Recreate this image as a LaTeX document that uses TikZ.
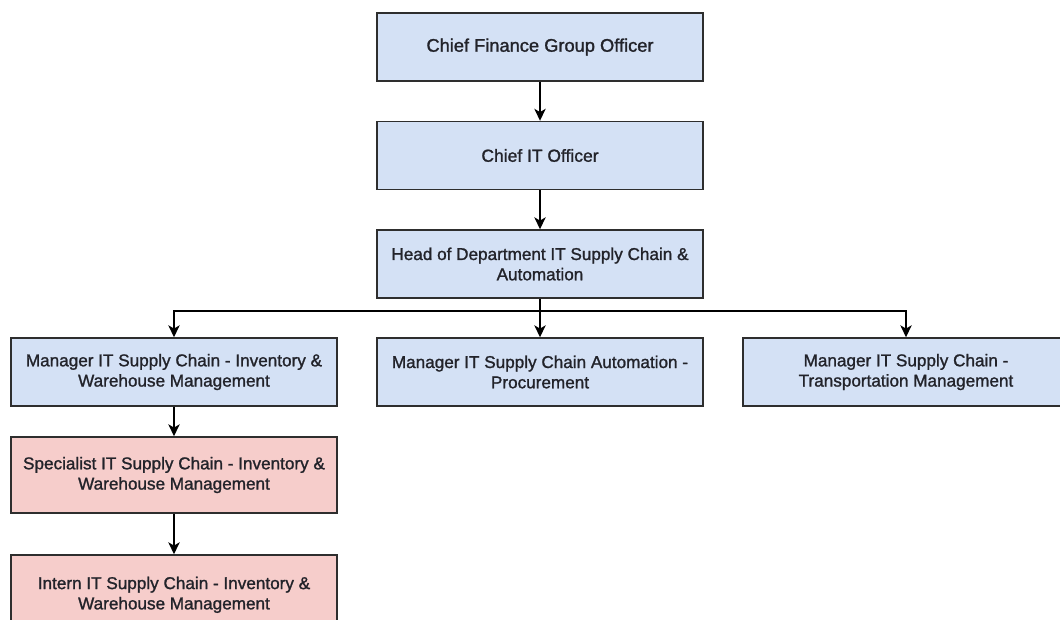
\documentclass[tikz,border=0pt]{standalone}
\usepackage{fontspec}
\setmainfont{Liberation Sans}
\newfontfamily\boxfont{Liberation Sans}[FakeBold=1.3]
\usetikzlibrary{arrows.meta}
\definecolor{boxblue}{HTML}{D4E1F5}
\definecolor{boxred}{HTML}{F6CDCB}
\definecolor{edgegray}{HTML}{2E2E2E}
\definecolor{txtgray}{HTML}{22232A}
\tikzset{
  orgbox/.style={draw=edgegray, line width=1.1pt, rectangle, minimum width=244.5pt,
    minimum height=51pt, align=center, text=txtgray, inner sep=2pt,
    font=\boxfont\fontsize{12.85pt}{15.2pt}\selectfont},
  bluebox/.style={orgbox, fill=boxblue},
  redbox/.style={orgbox, fill=boxred, minimum height=57pt},
  link/.style={draw=black, line width=1.1pt, -{Stealth[length=9pt,width=8.5pt,inset=2.5pt]}}
}
\begin{document}
\begin{tikzpicture}[x=0.75pt,y=-0.75pt]
\clip (0,0) rectangle (1060,619);
\fill[white] (0,0) rectangle (1060,619);
\node[bluebox, font=\boxfont\fontsize{13.7pt}{15.2pt}\selectfont] (b1) at (540,47) {Chief Finance Group Officer};
\node[bluebox, font=\boxfont\fontsize{13.1pt}{15.2pt}\selectfont] (b2) at (540,155.5) {Chief IT Officer};
\node[bluebox] (b3) at (540,264) {Head of Department IT Supply Chain \&\\Automation};
\node[bluebox] (m1) at (174,372) {Manager IT Supply Chain - Inventory \&\\Warehouse Management};
\node[bluebox] (m2) at (540,372) {Manager IT Supply Chain Automation -\\Procurement};
\node[bluebox] (m3) at (906,372) {Manager IT Supply Chain -\\Transportation Management};
\node[redbox] (s1) at (174,475) {Specialist IT Supply Chain - Inventory \&\\Warehouse Management};
\node[redbox, text depth=0pt] (i1) at (174,593) {Intern IT Supply Chain - Inventory \&\\Warehouse Management};
\draw[link] (b1) -- (b2);
\draw[link] (b2) -- (b3);
\draw[link] (b3) -- (m2);
\coordinate (j) at (540,311);
\draw[link] (j) -| (m1.north);
\draw[link] (j) -| (m3.north);
\draw[link] (m1) -- (s1);
\draw[link] (s1) -- (i1);
\end{tikzpicture}
\end{document}
